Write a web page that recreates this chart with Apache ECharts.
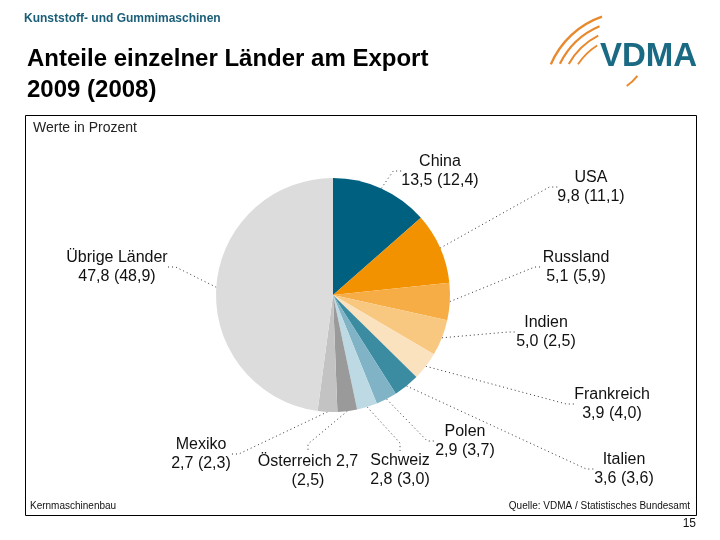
<!DOCTYPE html>
<html>
<head>
<meta charset="utf-8">
<script src="https://cdn.jsdelivr.net/npm/echarts@6/dist/echarts.min.js"></script>
<style>
html,body{margin:0;padding:0;background:#fff;}
#c{width:720px;height:540px;}
</style>
</head>
<body>
<div id="c"></div>
<script>
// ---- data ----
var countries = ['China','USA','Russland','Indien','Frankreich','Italien','Polen','Schweiz','Österreich','Mexiko','Übrige Länder'];
var share2009 = [13.5, 9.8, 5.1, 5.0, 3.9, 3.6, 2.9, 2.8, 2.7, 2.7, 47.8];
var share2008 = [12.4, 11.1, 5.9, 2.5, 4.0, 3.6, 3.7, 3.0, 2.5, 2.3, 48.9];

// ---- styling / layout (not data) ----
var sliceColors = ['#006080','#F39200','#F6AD45','#F9C880','#FBE2BE','#3B8BA1','#7FB3C5','#BDD9E3','#9A9A9A','#C3C3C3','#DCDCDC'];
var labelPos = [[440,171],[591,187],[576,267],[546,332],[612,404],[624,469],[465,441],[400,470],[308,471],[201,454],[117,267]];

function fmt(v){ return v.toFixed(1).replace('.', ','); }

var pieData = countries.map(function(n,i){
  return {name:n, value:share2009[i], prev:share2008[i], itemStyle:{color:sliceColors[i]}};
});

var chart = echarts.init(document.getElementById('c'), null, {renderer:'canvas'});
var FONT = '"Liberation Sans", Arial, sans-serif';

var arcs = [];
var arcDefs = [[86, 203, 251, 2.4],[78, 206, 247, 2.2],[70, 209, 243, 2],[62, 213, 238, 1.8]];
arcDefs.forEach(function(a){
  arcs.push({type:'arc', shape:{cx:630, cy:98, r:a[0], startAngle:a[1]*Math.PI/180, endAngle:a[2]*Math.PI/180},
    style:{stroke:'#E8892E', lineWidth:a[3], fill:null}, z:10});
});
arcs.push({type:'arc', shape:{cx:598, cy:45, r:50, startAngle:38*Math.PI/180, endAngle:55*Math.PI/180},
  style:{stroke:'#E8892E', lineWidth:2, fill:null}, z:10});

chart.setOption({
  backgroundColor:'#ffffff',
  animation:false,
  graphic: arcs.concat([
    {type:'text', left:24, top:13, style:{text:'Kunststoff- und Gummimaschinen', font:'bold 12px '+FONT, fill:'#1B5E78'}},
    {type:'text', left:27, top:44, style:{text:'Anteile einzelner Länder am Export\n2009 (2008)', font:'bold 24px '+FONT, fill:'#000', lineHeight:31}},
    {type:'text', left:600, top:40, style:{text:'VDMA', font:'bold 33px '+FONT, fill:'#1A6A83'}, z:11},
    {type:'rect', shape:{x:25.5, y:115.5, width:671, height:400}, style:{fill:null, stroke:'#000', lineWidth:1}},
    {type:'text', left:33, top:121, style:{text:'Werte in Prozent', font:'14px '+FONT, fill:'#222'}},
    {type:'text', left:30, top:501, style:{text:'Kernmaschinenbau', font:'10px '+FONT, fill:'#111'}},
    {type:'text', right:30, top:501, style:{text:'Quelle: VDMA / Statistisches Bundesamt', font:'10px '+FONT, fill:'#111'}},
    {type:'text', right:24, top:518, style:{text:'15', font:'12px '+FONT, fill:'#111'}}
  ]),
  series:[{
    type:'pie',
    center:[333,295],
    radius:117,
    startAngle:90,
    clockwise:true,
    avoidLabelOverlap:false,
    data:pieData,
    itemStyle:{borderWidth:0},
    label:{
      show:true,
      fontFamily:FONT,
      fontSize:16,
      lineHeight:19,
      color:'#111',
      align:'center',
      formatter:function(p){
        var d = p.data;
        if (d.name === 'Österreich') return d.name + ' ' + fmt(d.value) + '\n(' + fmt(d.prev) + ')';
        return d.name + '\n' + fmt(d.value) + ' (' + fmt(d.prev) + ')';
      }
    },
    labelLine:{show:true, length:8, length2:8, lineStyle:{color:'#333', width:1, type:[1,3]}},
    labelLayout:function(params){
      var p = labelPos[params.dataIndex];
      return {x:p[0], y:p[1], align:'center', verticalAlign:'middle'};
    },
    emphasis:{disabled:true}
  }]
});
</script>
</body>
</html>
